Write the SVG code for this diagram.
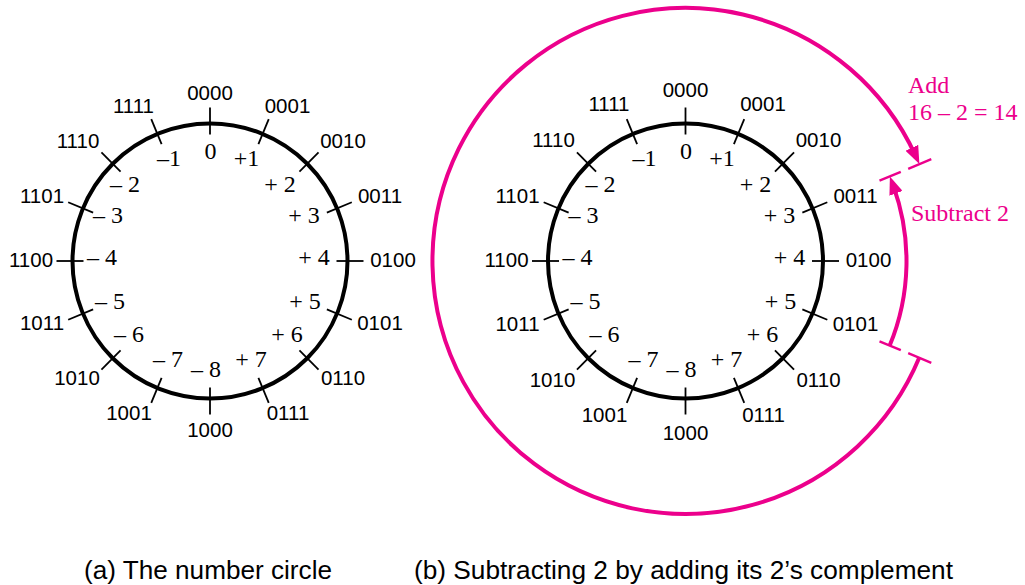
<svg xmlns="http://www.w3.org/2000/svg" width="1025" height="585" viewBox="0 0 1025 585">
<style>
.ring{fill:none;stroke:#000;stroke-width:4}
.tick{stroke:#000;stroke-width:1.8}
.bin{font-family:"Liberation Sans",Arial,sans-serif;font-size:20.5px;fill:#000;text-anchor:middle}
.num{font-family:"Liberation Serif","Times New Roman",serif;font-size:24px;fill:#000;text-anchor:middle}
.mag{fill:none;stroke:#EC008C;stroke-width:4}
.mtick{stroke:#EC008C;stroke-width:2.4}
.mlab{font-family:"Liberation Serif","Times New Roman",serif;font-size:24px;fill:#EC008C}
.cap{font-family:"Liberation Sans",Arial,sans-serif;font-size:25px;fill:#000}
</style>
<defs>
<marker id="arr" markerUnits="userSpaceOnUse" markerWidth="18" markerHeight="14" viewBox="0 0 18 14" refX="8" refY="7" orient="auto">
<path d="M0,0 L18,7 L0,14 Z" fill="#EC008C"/>
</marker>
<g id="ticks">
<line class="tick" x1="0" y1="-126.5" x2="0" y2="-153.5"/>
<line class="tick" x1="0" y1="-126.5" x2="0" y2="-153.5" transform="rotate(22.5)"/>
<line class="tick" x1="0" y1="-126.5" x2="0" y2="-153.5" transform="rotate(45)"/>
<line class="tick" x1="0" y1="-126.5" x2="0" y2="-153.5" transform="rotate(67.5)"/>
<line class="tick" x1="0" y1="-126.5" x2="0" y2="-153.5" transform="rotate(90)"/>
<line class="tick" x1="0" y1="-126.5" x2="0" y2="-153.5" transform="rotate(112.5)"/>
<line class="tick" x1="0" y1="-126.5" x2="0" y2="-153.5" transform="rotate(135)"/>
<line class="tick" x1="0" y1="-126.5" x2="0" y2="-153.5" transform="rotate(157.5)"/>
<line class="tick" x1="0" y1="-126.5" x2="0" y2="-153.5" transform="rotate(180)"/>
<line class="tick" x1="0" y1="-126.5" x2="0" y2="-153.5" transform="rotate(202.5)"/>
<line class="tick" x1="0" y1="-126.5" x2="0" y2="-153.5" transform="rotate(225)"/>
<line class="tick" x1="0" y1="-126.5" x2="0" y2="-153.5" transform="rotate(247.5)"/>
<line class="tick" x1="0" y1="-126.5" x2="0" y2="-153.5" transform="rotate(270)"/>
<line class="tick" x1="0" y1="-126.5" x2="0" y2="-153.5" transform="rotate(292.5)"/>
<line class="tick" x1="0" y1="-126.5" x2="0" y2="-153.5" transform="rotate(315)"/>
<line class="tick" x1="0" y1="-126.5" x2="0" y2="-153.5" transform="rotate(337.5)"/>
</g>
</defs>
<rect x="0" y="0" width="1025" height="585" fill="#fff"/>

<g id="circle-a">
<circle class="ring" cx="210" cy="261" r="137.5"/>
<use href="#ticks" transform="translate(210,261)"/>
<text class="bin" x="210" y="100">0000</text>
<text class="bin" x="287.5" y="113">0001</text>
<text class="bin" x="343" y="148">0010</text>
<text class="bin" x="380" y="203">0011</text>
<text class="bin" x="393" y="266.5">0100</text>
<text class="bin" x="380" y="330">0101</text>
<text class="bin" x="343" y="385">0110</text>
<text class="bin" x="288" y="420">0111</text>
<text class="bin" x="210" y="437">1000</text>
<text class="bin" x="129" y="420">1001</text>
<text class="bin" x="77" y="385">1010</text>
<text class="bin" x="42" y="330">1011</text>
<text class="bin" x="31" y="266.5">1100</text>
<text class="bin" x="42" y="203">1101</text>
<text class="bin" x="78" y="148">1110</text>
<text class="bin" x="133.5" y="113">1111</text>
<text class="num" x="210.5" y="159">0</text>
<text class="num" x="169" y="166">–1</text>
<text class="num" x="246.5" y="166">+1</text>
<text class="num" x="125" y="192">– 2</text>
<text class="num" x="280" y="192">+ 2</text>
<text class="num" x="108" y="223">– 3</text>
<text class="num" x="304" y="223">+ 3</text>
<text class="num" x="102" y="265">– 4</text>
<text class="num" x="314" y="265">+ 4</text>
<text class="num" x="110" y="309">– 5</text>
<text class="num" x="305" y="309">+ 5</text>
<text class="num" x="129" y="342">– 6</text>
<text class="num" x="287" y="342">+ 6</text>
<text class="num" x="168" y="367">– 7</text>
<text class="num" x="251" y="367">+ 7</text>
<text class="num" x="206" y="377">– 8</text>
</g>

<g id="circle-b" transform="translate(475.5,0)">
<circle class="ring" cx="210" cy="261" r="137.5"/>
<use href="#ticks" transform="translate(210,261)"/>
<text class="bin" x="210" y="97">0000</text>
<text class="bin" x="287.5" y="111">0001</text>
<text class="bin" x="343" y="147">0010</text>
<text class="bin" x="380" y="203">0011</text>
<text class="bin" x="393" y="266.5">0100</text>
<text class="bin" x="380" y="331">0101</text>
<text class="bin" x="343" y="387">0110</text>
<text class="bin" x="288" y="422">0111</text>
<text class="bin" x="210" y="440">1000</text>
<text class="bin" x="129" y="422">1001</text>
<text class="bin" x="77" y="387">1010</text>
<text class="bin" x="42" y="331">1011</text>
<text class="bin" x="31" y="266.5">1100</text>
<text class="bin" x="42" y="203">1101</text>
<text class="bin" x="78" y="147">1110</text>
<text class="bin" x="133.5" y="111">1111</text>
<text class="num" x="210.5" y="159">0</text>
<text class="num" x="169" y="166">–1</text>
<text class="num" x="246.5" y="166">+1</text>
<text class="num" x="125" y="192">– 2</text>
<text class="num" x="280" y="192">+ 2</text>
<text class="num" x="108" y="223">– 3</text>
<text class="num" x="304" y="223">+ 3</text>
<text class="num" x="102" y="265">– 4</text>
<text class="num" x="314" y="265">+ 4</text>
<text class="num" x="110" y="309">– 5</text>
<text class="num" x="305" y="309">+ 5</text>
<text class="num" x="129" y="342">– 6</text>
<text class="num" x="287" y="342">+ 6</text>
<text class="num" x="168" y="367">– 7</text>
<text class="num" x="251" y="367">+ 7</text>
<text class="num" x="206" y="377">– 8</text>
</g>

<g id="connectors">
<path class="mag" d="M 919.2 357.8 A 253 253 0 1 1 915.2 155.0" marker-end="url(#arr)"/>
<path class="mag" d="M 889.7 345.6 A 221 221 0 0 0 893.3 185.8" marker-end="url(#arr)"/>
<line class="mtick" x1="908.2" y1="168.8" x2="931.3" y2="159.2"/>
<line class="mtick" x1="879.5" y1="180.6" x2="900.8" y2="171.8"/>
<line class="mtick" x1="908.2" y1="353.2" x2="931.3" y2="362.8"/>
<line class="mtick" x1="879.5" y1="341.4" x2="900.8" y2="350.2"/>
</g>

<g id="labels">
<text class="mlab" x="908" y="93">Add</text>
<text class="mlab" x="908" y="120">16 – 2 = 14</text>
<text class="mlab" x="911" y="221">Subtract 2</text>
<text class="cap" x="84" y="579" textLength="248" lengthAdjust="spacingAndGlyphs">(a) The number circle</text>
<text class="cap" x="414" y="579" textLength="539" lengthAdjust="spacingAndGlyphs">(b) Subtracting 2 by adding its 2’s complement</text>
</g>
</svg>
